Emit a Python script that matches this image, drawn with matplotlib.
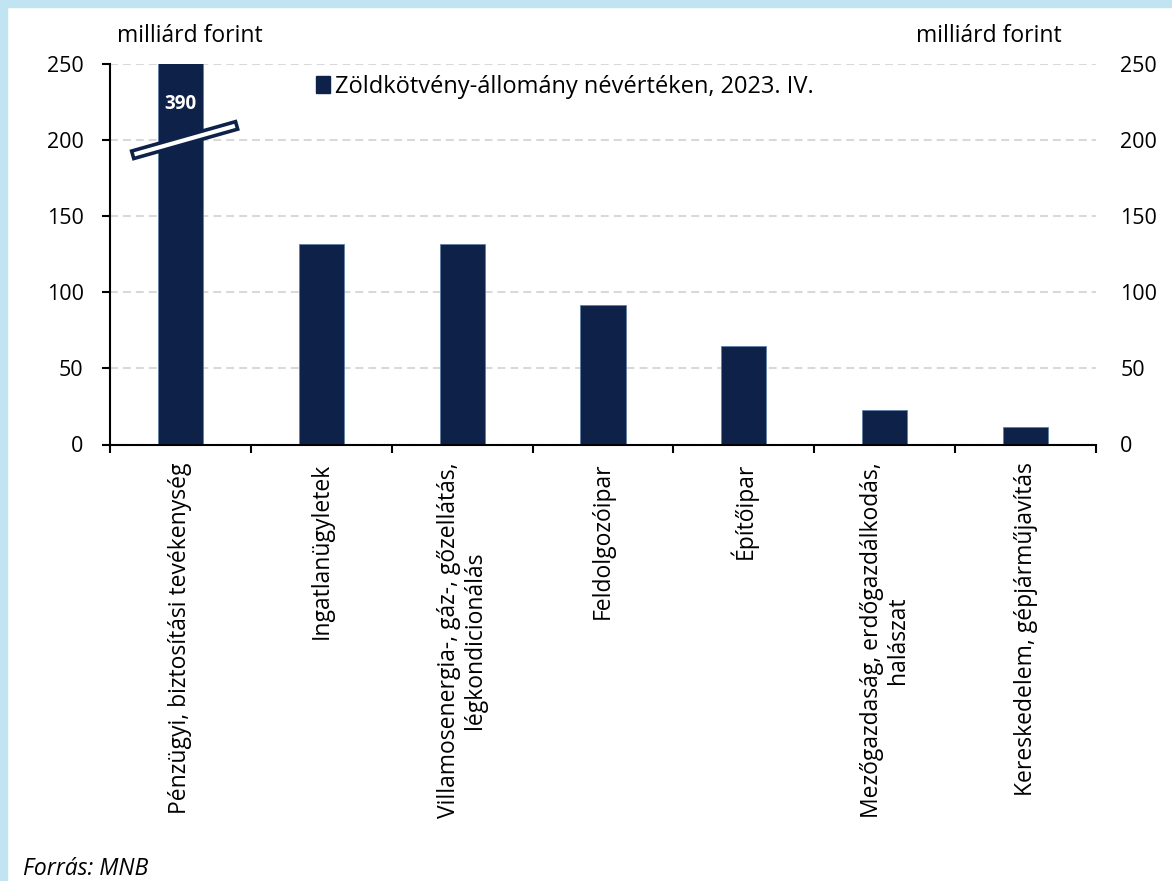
import matplotlib
matplotlib.use("Agg")
import matplotlib.pyplot as plt
from matplotlib.patches import Polygon, Rectangle, Patch
from matplotlib.transforms import IdentityTransform
import numpy as np

# Green bond stock by sector (billion HUF), 2023 Q4
categories = [
    "Pénzügyi, biztosítási tevékenység",
    "Ingatlanügyletek",
    "Villamosenergia-, gáz-, gőzellátás,\nlégkondicionálás",
    "Feldolgozóipar",
    "Építőipar",
    "Mezőgazdaság, erdőgazdálkodás,\nhalászat",
    "Kereskedelem, gépjárműjavítás",
]
values = [390, 131.9, 131.5, 91.7, 64.5, 22.7, 11.7]
y_ticks = [0, 50, 100, 150, 200, 250]
series_label = "Zöldkötvény-állomány névértéken, 2023. IV."
unit_label = "milliárd forint"
source_text = "Forrás: MNB"
y_max = 250
break_level = 200

FONT = "Open Sans"
NAVY = "#0e2249"
plt.rcParams["font.family"] = [FONT, "DejaVu Sans"]

W, H = 1172, 881
fig = plt.figure(figsize=(W / 100, H / 100), dpi=100)

# light blue frame along the top and left edges
fig.patches.append(Rectangle((0, 1 - 7 / H), 1, 7 / H, transform=fig.transFigure,
                             color="#c1e4f3", zorder=0))
fig.patches.append(Rectangle((0, 0), 7 / W, 1, transform=fig.transFigure,
                             color="#c1e4f3", zorder=0))

left, right, bottom, top = 110, 1096, 444.5, 64
ax = fig.add_axes([left / W, 1 - bottom / H, (right - left) / W, (bottom - top) / H])

x = np.arange(len(categories))
ax.bar(x, values, width=0.32, color=NAVY, edgecolor="#5f7fa3",
       linewidth=0.6, zorder=3, label=series_label)

ax.set_xlim(-0.5, len(categories) - 0.5)
ax.set_ylim(0, y_max)
ax.set_yticks(y_ticks)

# category labels between boundary ticks
ax.set_xticks(x)
ax.set_xticklabels(categories, rotation=90, ha="center", va="top",
                   multialignment="center", fontsize=16.5, linespacing=1.1)
ax.tick_params(axis="x", which="major", length=0, pad=13)
ax.set_xticks(np.arange(-0.5, len(categories)), minor=True)
ax.tick_params(axis="x", which="minor", length=6, width=1.5, direction="out",
               color="black")
ax.tick_params(axis="y", length=6, width=1.5, direction="out", labelsize=15.5, pad=13)

for side in ("top", "right"):
    ax.spines[side].set_visible(False)
for side in ("left", "bottom"):
    ax.spines[side].set_linewidth(1.5)
    ax.spines[side].set_zorder(4)

ax.yaxis.grid(True, color="#d9d9d9", linestyle=(0, (3.8, 2.4)), linewidth=1.5, zorder=0)
ax.set_axisbelow(True)

# secondary value axis on the right
ax2 = ax.twinx()
ax2.set_ylim(0, y_max)
ax2.set_yticks(y_ticks)
ax2.tick_params(axis="y", length=0, labelsize=15.5, pad=17.5)
for side in ax2.spines:
    ax2.spines[side].set_visible(False)

# value of the truncated bar
ax.text(0, 224, f"{values[0]:.0f}", color="white", fontsize=13.5, fontweight="bold",
        ha="center", va="center", zorder=5)

# axis break marker across the truncated bar
fig.canvas.draw()
cx, cy = ax.transData.transform((0.03, break_level))
ang = np.deg2rad(15.8)
u = np.array([np.cos(ang), np.sin(ang)])
n = np.array([-np.sin(ang), np.cos(ang)])
hl, hw = 54, 3.9
c = np.array([cx, cy])
corners = [c - hl * u - hw * n, c + hl * u - hw * n, c + hl * u + hw * n, c - hl * u + hw * n]
fig.patches.append(Polygon(corners, closed=True, facecolor="white", edgecolor=NAVY,
                           linewidth=2.6, transform=IdentityTransform(), zorder=6))

# legend
fig.legend(handles=[Patch(facecolor=NAVY, edgecolor=NAVY)], labels=[series_label],
           loc="upper left", bbox_to_anchor=(316 / W, 1 - 75 / H), frameon=False,
           fontsize=17, handlelength=0.6, handleheight=0.7, handletextpad=0.2,
           borderpad=0, borderaxespad=0)

fig.text(117 / W, 1 - 41.7 / H, unit_label, fontsize=16.5, ha="left", va="baseline")
fig.text(1062 / W, 1 - 41.7 / H, unit_label, fontsize=16.5, ha="right", va="baseline")
fig.text(23 / W, 1 - 875 / H, source_text, fontsize=16.5, style="italic",
         ha="left", va="baseline")

fig.savefig("out.png", dpi=100)
